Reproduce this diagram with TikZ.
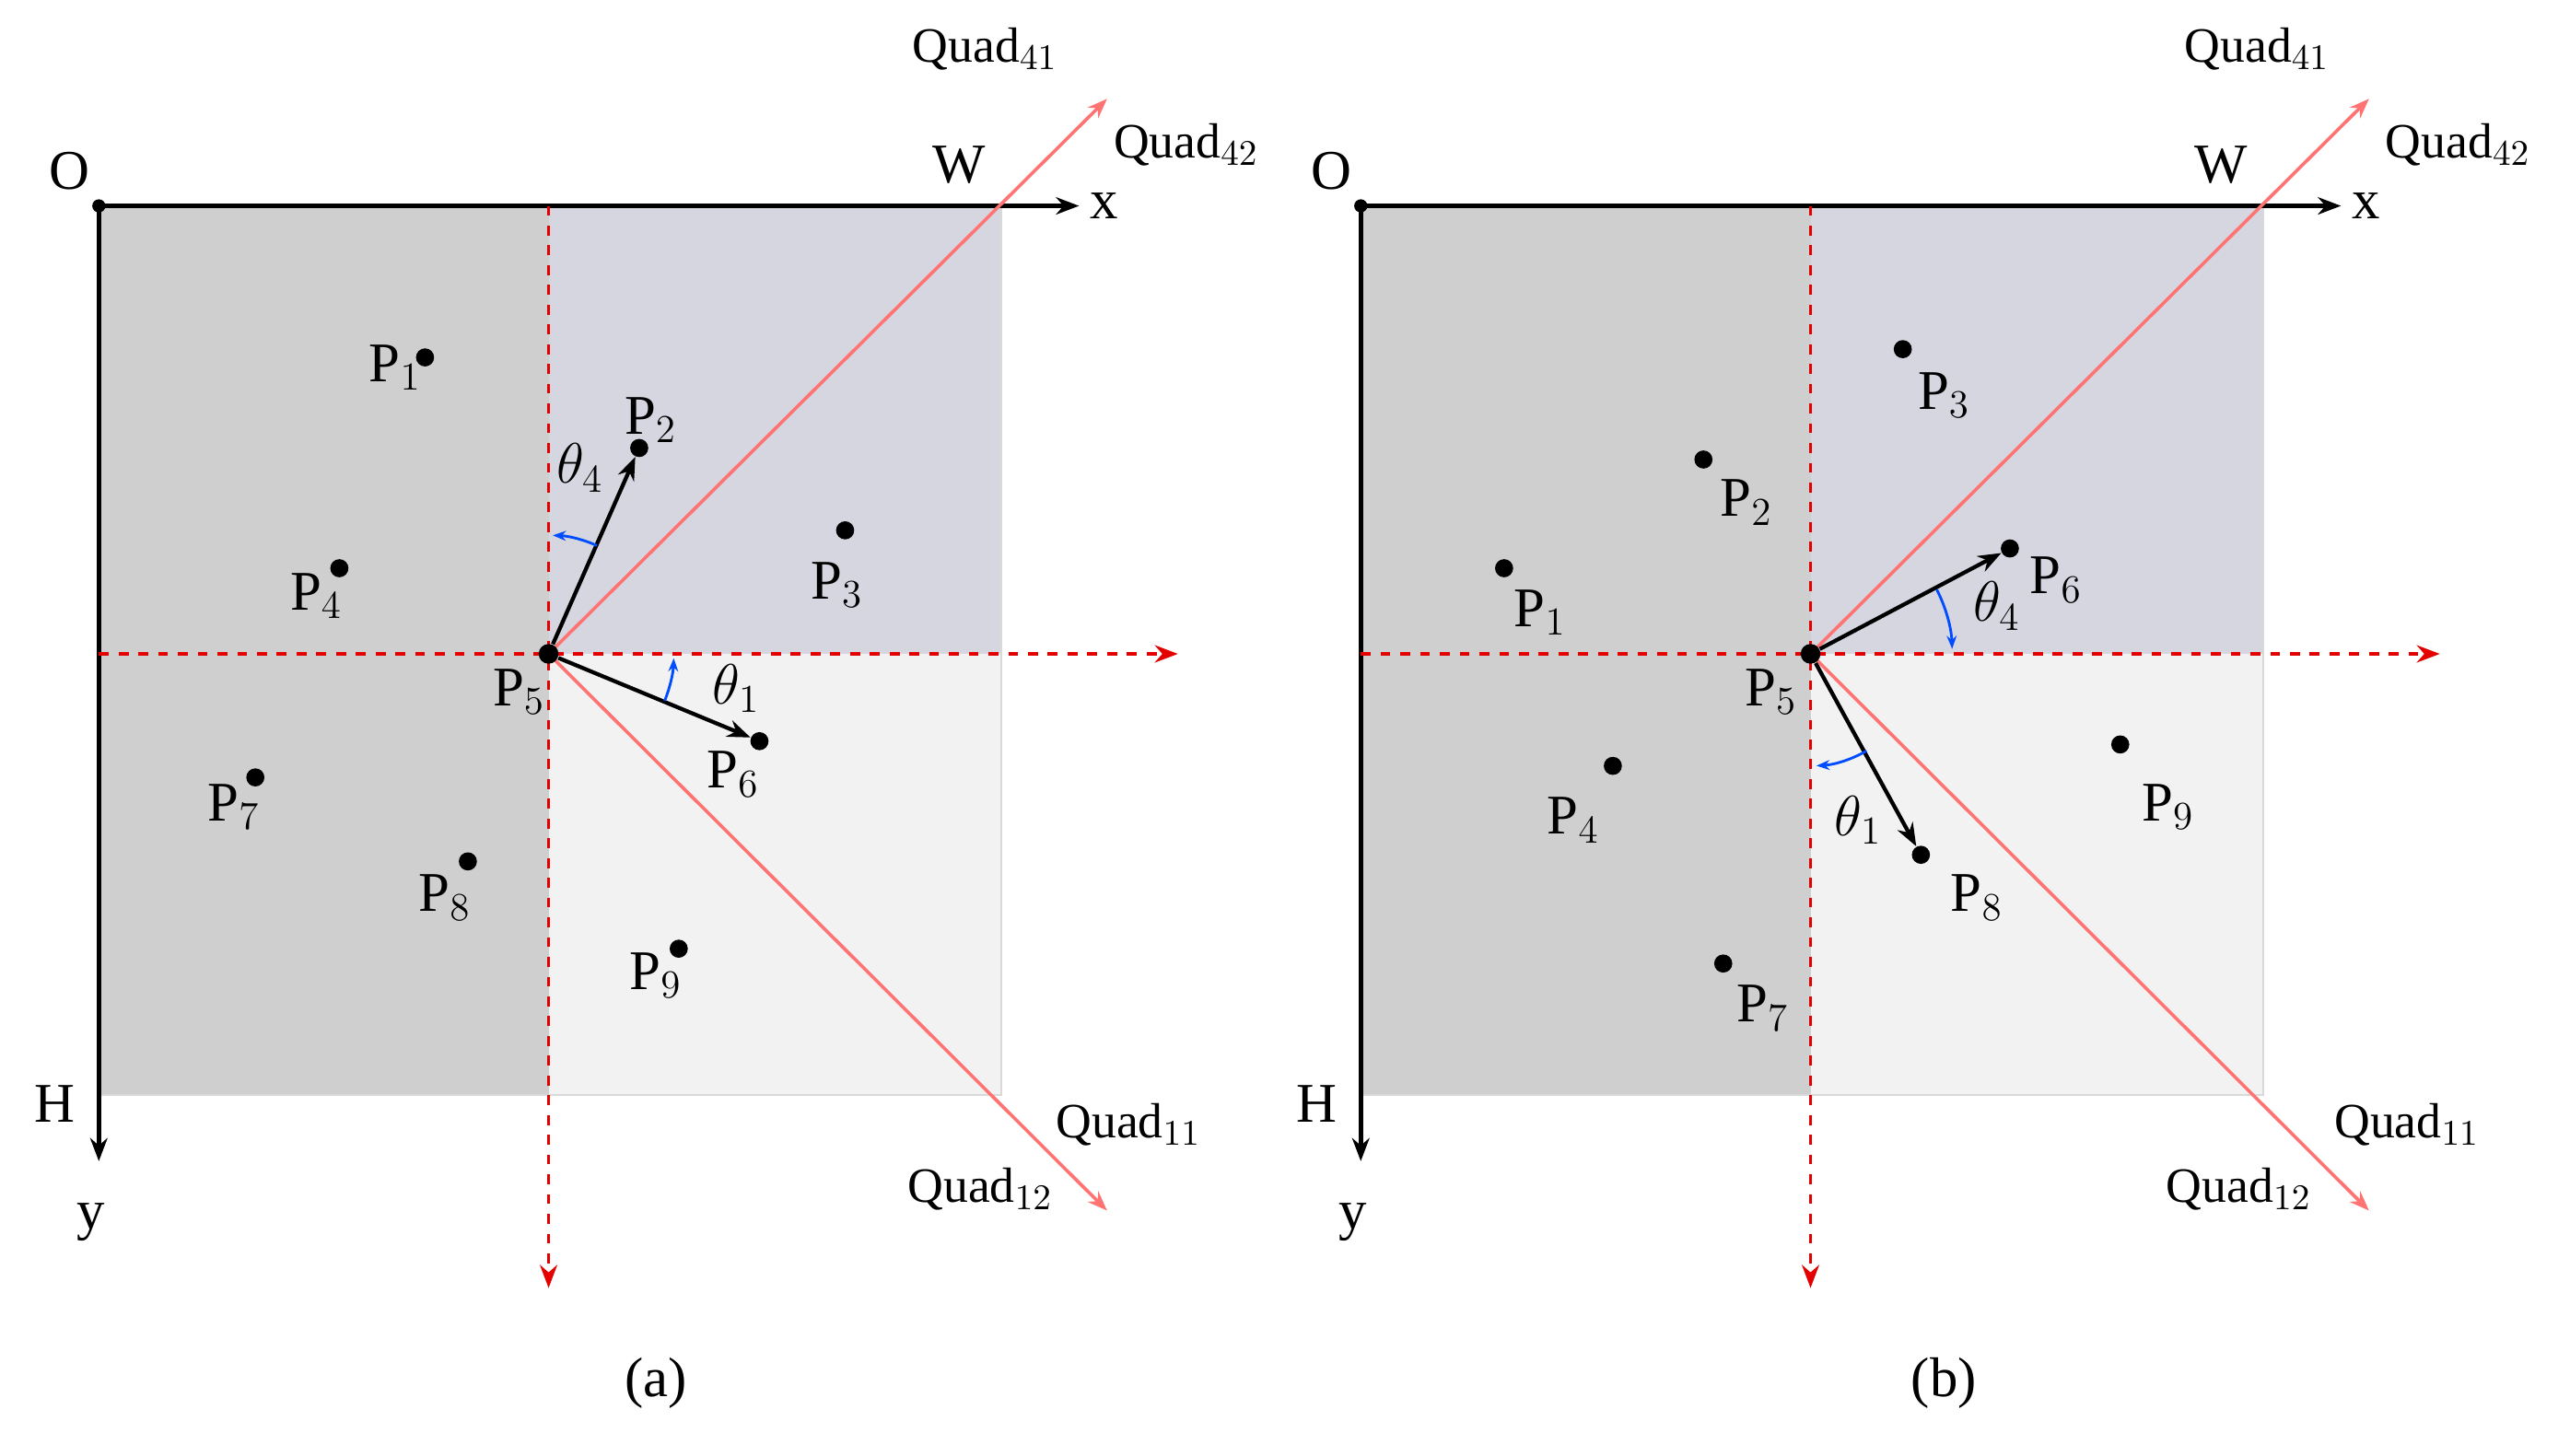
\documentclass[tikz,border=0pt]{standalone}
\usepackage{fontspec}
\setmainfont{Liberation Serif}
\usetikzlibrary{arrows.meta}
\begin{document}
\begin{tikzpicture}[x=0.5pt,y=0.5pt,
  pt/.style={circle,fill=black,inner sep=0pt,minimum size=5.5pt},
  lab/.style={font=\fontsize{17}{17}\selectfont,inner sep=0pt},
  qlab/.style={font=\fontsize{15}{15}\selectfont,inner sep=0pt},
  axis/.style={black,line width=1.3pt,-{Stealth[length=7pt]}},
  rdash/.style={red!90!black,dashed,line width=1pt,-{Stealth[length=7pt]}},
  diag/.style={red!55,line width=1pt,-{Stealth[length=6pt,fill=red]}},
  vec/.style={black,line width=1.2pt,-{Stealth[length=7pt]}},
  ang/.style={blue!70!cyan,line width=0.8pt,-{Stealth[length=4pt]}}]
\useasboundingbox (0,0) rectangle (1560,884);
\foreach \s/\tag in {0/a,766/b}{
\begin{scope}[xshift=\s*0.5pt]
\fill[gray!38] (60,219) rectangle (333,759);
\fill[blue!15!gray!28] (333,487) rectangle (608,759);
\fill[gray!10] (333,219) rectangle (608,487);
\draw[gray!30,line width=0.6pt] (608,759) -- (608,219) -- (60,219);
\end{scope}}
% panel (a)
\begin{scope}
\coordinate (O) at (60,759);
\coordinate (P5) at (333,487);
\draw[axis] (O) -- (655,759) coordinate (xe);
\draw[axis] (O) -- (60,179) coordinate (ye);
\fill (O) circle (4);
\draw[rdash] (60,487) -- (715,487) coordinate (he);
\draw[rdash] (333,759) -- (333,102) coordinate (ve);
\draw[diag] (P5) -- (672,824) coordinate (q4);
\draw[diag] (P5) -- (672,149) coordinate (q1);
\node[pt] (a1) at (258,667) {};
\node[pt] (a2) at (388,612) {};
\node[pt] (a3) at (513,562) {};
\node[pt] (a4) at (206,539) {};
\node[pt] (a6) at (461,434) {};
\node[pt] (a7) at (155,412) {};
\node[pt] (a8) at (284,361) {};
\node[pt] (a9) at (412,308) {};
\node[pt,minimum size=6pt] (a5) at (P5) {};
\draw[vec] (a5) -- (a2);
\draw[vec] (a5) -- (a6);
\draw[ang] ([shift={(66:72)}]P5) arc (66:88:72);
\draw[ang] ([shift={(-22:76)}]P5) arc (-22:-2:76);
\node[lab] at (240,661) {P$_1$};
\node[lab] at (395,629) {P$_2$};
\node[lab] at (508,529) {P$_3$};
\node[lab] at (192,522) {P$_4$};
\node[lab] at (315,464) {P$_5$};
\node[lab] at (445,414) {P$_6$};
\node[lab] at (142,394) {P$_7$};
\node[lab] at (270,339) {P$_8$};
\node[lab] at (398,292) {P$_9$};
\node[lab] at (352,600) {$\theta_4$};
\node[lab] at (447,466) {$\theta_1$};
\node[lab] at (42,780) {O};
\node[lab] at (582,784) {W};
\node[lab] at (670,759) {x};
\node[lab] at (33,214) {H};
\node[lab] at (55,142) {y};
\node[qlab] at (598,854) {Quad$_{41}$};
\node[qlab] at (720,796) {Quad$_{42}$};
\node[qlab] at (685,201) {Quad$_{11}$};
\node[qlab] at (595,162) {Quad$_{12}$};
\node[lab] at (398,44) {(a)};
\end{scope}
% panel (b)
\begin{scope}[xshift=383pt]
\coordinate (O) at (60,759);
\coordinate (P5) at (333,487);
\draw[axis] (O) -- (655,759) coordinate (xe);
\draw[axis] (O) -- (60,179) coordinate (ye);
\fill (O) circle (4);
\draw[rdash] (60,487) -- (715,487) coordinate (he);
\draw[rdash] (333,759) -- (333,102) coordinate (ve);
\draw[diag] (P5) -- (672,824) coordinate (q4);
\draw[diag] (P5) -- (672,149) coordinate (q1);
\node[pt] (b1) at (147,539) {};
\node[pt] (b2) at (268,605) {};
\node[pt] (b3) at (389,672) {};
\node[pt] (b4) at (213,419) {};
\node[pt] (b6) at (454,551) {};
\node[pt] (b7) at (280,299) {};
\node[pt] (b8) at (400,365) {};
\node[pt] (b9) at (521,432) {};
\node[pt,minimum size=6pt] (b5) at (P5) {};
\draw[vec] (b5) -- (b6);
\draw[vec] (b5) -- (b8);
\draw[ang] ([shift={(27:86)}]P5) arc (27:2:86);
\draw[ang] ([shift={(-60:68)}]P5) arc (-60:-87:68);
\node[lab] at (169,512) {P$_1$};
\node[lab] at (294,579) {P$_2$};
\node[lab] at (414,644) {P$_3$};
\node[lab] at (189,386) {P$_4$};
\node[lab] at (309,464) {P$_5$};
\node[lab] at (482,532) {P$_6$};
\node[lab] at (304,272) {P$_7$};
\node[lab] at (434,339) {P$_8$};
\node[lab] at (550,394) {P$_9$};
\node[lab] at (446,516) {$\theta_4$};
\node[lab] at (362,386) {$\theta_1$};
\node[lab] at (42,780) {O};
\node[lab] at (582,784) {W};
\node[lab] at (670,759) {x};
\node[lab] at (33,214) {H};
\node[lab] at (55,142) {y};
\node[qlab] at (604,854) {Quad$_{41}$};
\node[qlab] at (726,796) {Quad$_{42}$};
\node[qlab] at (695,201) {Quad$_{11}$};
\node[qlab] at (593,162) {Quad$_{12}$};
\node[lab] at (414,44) {(b)};
\end{scope}
\end{tikzpicture}
\end{document}
